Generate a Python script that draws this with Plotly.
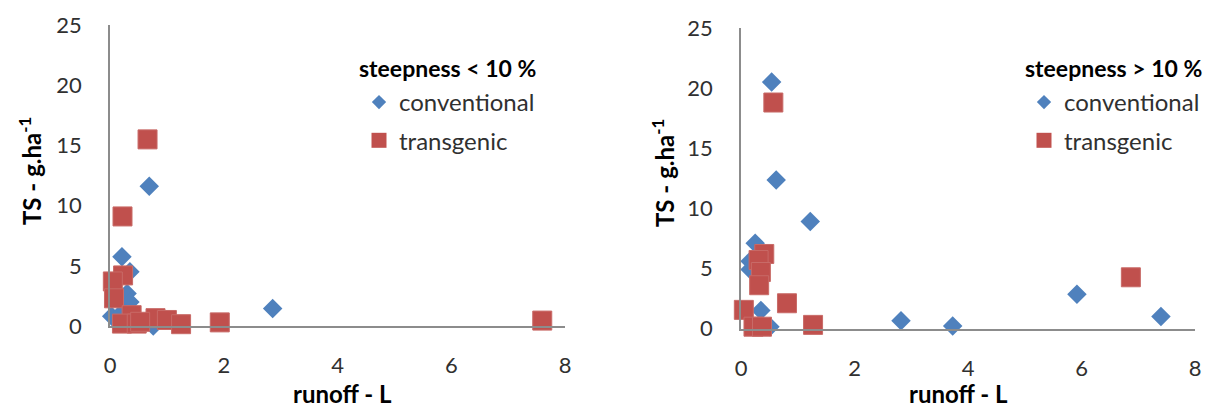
import plotly.graph_objects as go

# ---- data (runoff L, TS g/ha) ----
left_conv_x = [0.69, 0.21, 0.35, 0.30, 0.35, 0.03, 2.86, 0.76, 0.23]
left_conv_y = [11.6, 5.75, 4.5, 2.7, 2.0, 0.8, 1.45, 0.0, 1.2]
left_trans_x = [0.66, 0.22, 0.23, 0.05, 0.07, 0.38, 0.21, 0.47, 0.80, 1.00, 1.25, 1.93, 7.60, 0.53]
left_trans_y = [15.5, 9.1, 4.2, 3.7, 2.3, 0.9, 0.2, 0.2, 0.65, 0.5, 0.15, 0.3, 0.45, 0.35]

right_conv_x = [0.54, 0.62, 1.22, 0.25, 0.16, 0.16, 0.35, 0.51, 2.82, 3.73, 5.92, 7.40]
right_conv_y = [20.5, 12.35, 8.9, 7.1, 5.6, 4.9, 1.5, 0.15, 0.65, 0.2, 2.85, 1.0]
right_trans_x = [0.57, 0.41, 0.31, 0.35, 0.32, 0.81, 0.05, 0.22, 0.37, 1.27, 6.87]
right_trans_y = [18.8, 6.2, 5.7, 4.7, 3.6, 2.1, 1.55, 0.15, 0.15, 0.3, 4.26]

x_ticks = [0, 2, 4, 6, 8]
y_ticks = [0, 5, 10, 15, 20, 25]
legend_titles = ["steepness < 10 %", "steepness > 10 %"]
series_names = ["conventional", "transgenic"]
x_title = "runoff - L"
y_title = "TS - g.ha<sup>-1</sup>"

BLUE = "#4F81BD"
RED = "#C0504D"
FONT = "Lato"
OFF = 8                      # default page body margin
W, H = 1221 - OFF, 408 - OFF


def px(x):
    return (x - OFF) / W


def py(y):
    return 1 - (y - OFF) / H


fig = go.Figure()

panels = [
    ("x", "y", "legend", left_conv_x, left_conv_y, left_trans_x, left_trans_y),
    ("x2", "y2", "legend2", right_conv_x, right_conv_y, right_trans_x, right_trans_y),
]
for xa, ya, lg, cx, cy, tx, ty in panels:
    fig.add_trace(go.Scatter(x=cx, y=cy, mode="markers", xaxis=xa, yaxis=ya,
                             showlegend=False, cliponaxis=False,
                             marker=dict(symbol="diamond", size=15, color=BLUE,
                                         line=dict(width=0))))
    fig.add_trace(go.Scatter(x=tx, y=ty, mode="markers", xaxis=xa, yaxis=ya,
                             showlegend=False, cliponaxis=False,
                             marker=dict(symbol="square", size=19, color=RED,
                                         line=dict(width=1, color="#C86A67"))))
    # legend entries
    fig.add_trace(go.Scatter(x=[None], y=[None], mode="markers", xaxis=xa, yaxis=ya,
                             name=series_names[0], legend=lg, legendgroup=lg + "a",
                             marker=dict(symbol="diamond", size=11, color=BLUE)))
    fig.add_trace(go.Scatter(x=[None], y=[None], mode="markers", xaxis=xa, yaxis=ya,
                             name=series_names[1], legend=lg, legendgroup=lg + "b",
                             marker=dict(symbol="square", size=15, color=RED)))

axis_common = dict(showgrid=False, zeroline=False, showline=True, linecolor="#8C8C8C",
                   linewidth=1.5, ticks="", automargin=False,
                   tickfont=dict(family=FONT, size=22, color="#303030"))

xd1 = [px(110), px(565)]
xd2 = [px(741), px(1195)]
yd1 = [py(326), py(25)]
yd2 = [py(328.5), py(28)]

legend_common = dict(xanchor="left", yanchor="top",
                     font=dict(family=FONT, size=24, color="#303030"),
                     tracegroupgap=4, bgcolor="rgba(0,0,0,0)")

fig.update_layout(
    width=W, height=H, margin=dict(l=0, r=0, t=0, b=0),
    plot_bgcolor="white", paper_bgcolor="white",
    xaxis=dict(domain=xd1, range=[0, 8], tickvals=x_ticks, anchor="y",
               ticklabelstandoff=19, **axis_common),
    yaxis=dict(domain=yd1, range=[0, 25], tickvals=y_ticks, anchor="x",
               ticklabelstandoff=22, **axis_common),
    xaxis2=dict(domain=xd2, range=[0, 8], tickvals=x_ticks, anchor="y2",
                ticklabelstandoff=19, **axis_common),
    yaxis2=dict(domain=yd2, range=[0, 25], tickvals=y_ticks, anchor="x2",
                ticklabelstandoff=22, **axis_common),
    legend=dict(x=px(359), y=py(80), **legend_common),
    legend2=dict(x=px(1024), y=py(80), **legend_common),
)

# legend titles
for xl, txt in [(357, legend_titles[0]), (1023, legend_titles[1])]:
    fig.add_annotation(text="<b>" + txt + "</b>", x=px(xl), y=py(68),
                       xref="paper", yref="paper", showarrow=False,
                       xanchor="left", yanchor="middle",
                       font=dict(family=FONT, size=23, color="black"))

# axis titles
for xc in [342, 958]:
    fig.add_annotation(text="<b>" + x_title + "</b>", x=px(xc), y=py(393),
                       xref="paper", yref="paper", showarrow=False,
                       xanchor="center", yanchor="middle",
                       font=dict(family=FONT, size=24, color="black"))
for xc, yc in [(30, 171), (663, 173)]:
    fig.add_annotation(text="<b>" + y_title + "</b>", x=px(xc), y=py(yc),
                       xref="paper", yref="paper", showarrow=False, textangle=-90,
                       xanchor="center", yanchor="middle",
                       font=dict(family=FONT, size=24, color="black"))

fig.write_html("out.html")
